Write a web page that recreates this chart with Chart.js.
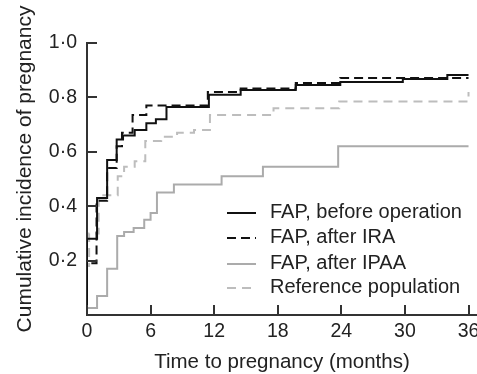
<!DOCTYPE html>
<html>
<head>
<meta charset="utf-8">
<title>Cumulative incidence of pregnancy</title>
<script src="https://cdn.jsdelivr.net/npm/chart.js@4.4.0/dist/chart.umd.min.js"></script>
<style>
  html, body { margin: 0; padding: 0; background: #fff; }
  canvas { display: block; }
</style>
</head>
<body>
<canvas id="pregnancyChart" width="477" height="374"></canvas>
<script>
// Kaplan-Meier steps: month of each event and cumulative incidence after it
const beforeMonths = [0, 0, 0.95, 1.9, 2.8, 3.4, 4.5, 5.6, 6.5, 7.5, 11.5, 14.5, 19.7, 23.9, 29.8, 34.0, 36];
const beforeValues = [0, 0.28, 0.43, 0.57, 0.645, 0.66, 0.68, 0.705, 0.72, 0.765, 0.81, 0.827, 0.846, 0.857, 0.868, 0.882, 0.882];

const iraMonths = [0, 0, 0.9, 1.9, 2.8, 3.3, 4.3, 5.6, 11.4, 14.5, 19.7, 23.9, 36];
const iraValues = [0, 0.19, 0.42, 0.54, 0.62, 0.67, 0.735, 0.77, 0.82, 0.833, 0.853, 0.871, 0.871];

const ipaaMonths = [0, 0, 0.95, 1.9, 2.85, 3.5, 4.4, 5.4, 6.0, 6.6, 8.2, 12.7, 16.6, 23.7, 36];
const ipaaValues = [0, 0.026, 0.07, 0.17, 0.29, 0.305, 0.32, 0.35, 0.375, 0.45, 0.48, 0.51, 0.545, 0.62, 0.62];

const refMonths = [0, 0, 0.2, 1.1, 2.9, 3.5, 4.5, 5.5, 7.0, 8.5, 10.1, 11.6, 17.6, 23.8, 36, 36];
const refValues = [0, 0.18, 0.30, 0.44, 0.51, 0.545, 0.565, 0.64, 0.655, 0.67, 0.68, 0.735, 0.76, 0.785, 0.785, 0.82];

const seriesLabels = ['FAP, before operation', 'FAP, after IRA', 'FAP, after IPAA', 'Reference population'];

// Axis ticks and their printed labels (journal style decimal point)
const xTicks = [0, 6, 12, 18, 24, 30, 36];
const xTickLabels = ['0', '6', '12', '18', '24', '30', '36'];
const yTicks = [0.2, 0.4, 0.6, 0.8, 1.0];
const yTickLabels = ['0·2', '0·4', '0·6', '0·8', '1·0'];

const xTitle = 'Time to pregnancy (months)';
const yTitle = 'Cumulative incidence of pregnancy';

const FONT = '"Liberation Sans", Arial, Helvetica, sans-serif';
const AXIS_COLOR = '#333';
const TEXT_COLOR = '#222';

function toPoints(months, values) {
    return months.map((m, i) => ({ x: m, y: values[i] }));
}

// Inward tick marks, axis titles and the boxed-in legend
const axisExtras = {
    id: 'axisExtras',
    afterDraw(chart) {
        const ctx = chart.ctx;
        const area = chart.chartArea;
        const xScale = chart.scales.x;
        const yScale = chart.scales.y;

        ctx.save();
        ctx.strokeStyle = AXIS_COLOR;
        ctx.lineWidth = 2;
        ctx.beginPath();
        xTicks.forEach(v => {
            const px = Math.round(xScale.getPixelForValue(v));
            ctx.moveTo(px, area.bottom);
            ctx.lineTo(px, area.bottom - 10);
        });
        yTicks.forEach(v => {
            const py = Math.round(yScale.getPixelForValue(v));
            ctx.moveTo(area.left, py);
            ctx.lineTo(area.left + 10, py);
        });
        ctx.stroke();

        // Axis titles
        ctx.fillStyle = TEXT_COLOR;
        ctx.textAlign = 'center';
        ctx.textBaseline = 'alphabetic';
        ctx.font = '20.5px ' + FONT;
        ctx.fillText(xTitle, (area.left + area.right) / 2, 368);

        ctx.save();
        ctx.translate(31, 169);
        ctx.rotate(-Math.PI / 2);
        ctx.font = '21px ' + FONT;
        ctx.fillText(yTitle, 0, 0);
        ctx.restore();

        // Legend
        ctx.font = '20px ' + FONT;
        ctx.textAlign = 'left';
        const rowY = [213, 238, 264, 288];
        chart.data.datasets.forEach((ds, i) => {
            const y = rowY[i];
            ctx.save();
            ctx.strokeStyle = ds.borderColor;
            ctx.lineWidth = ds.borderWidth;
            ctx.setLineDash(ds.borderDash || []);
            ctx.beginPath();
            ctx.moveTo(227, y);
            ctx.lineTo(256, y);
            ctx.stroke();
            ctx.restore();
            ctx.fillText(ds.label, 270, y + 5);
        });
        ctx.restore();
    }
};

document.addEventListener('DOMContentLoaded', function() {
    const canvas = document.getElementById('pregnancyChart');

    new Chart(canvas, {
        type: 'line',
        data: {
            datasets: [
                {
                    label: seriesLabels[0],
                    data: toPoints(beforeMonths, beforeValues),
                    borderColor: '#111',
                    borderWidth: 2
                },
                {
                    label: seriesLabels[1],
                    data: toPoints(iraMonths, iraValues),
                    borderColor: '#111',
                    borderWidth: 2,
                    borderDash: [9, 5]
                },
                {
                    label: seriesLabels[2],
                    data: toPoints(ipaaMonths, ipaaValues),
                    borderColor: '#ababab',
                    borderWidth: 2
                },
                {
                    label: seriesLabels[3],
                    data: toPoints(refMonths, refValues),
                    borderColor: '#bdbdbd',
                    borderWidth: 2,
                    borderDash: [9, 6]
                }
            ]
        },
        options: {
            responsive: false,
            devicePixelRatio: 1,
            animation: false,
            elements: {
                // horizontal first, then the jump: a survival-style staircase
                line: { stepped: 'before', tension: 0, fill: false },
                point: { radius: 0, hoverRadius: 0 }
            },
            layout: { padding: { top: 43, right: 0, left: 0, bottom: 0 } },
            plugins: {
                legend: { display: false },
                tooltip: { enabled: false }
            },
            scales: {
                x: {
                    type: 'linear',
                    min: 0,
                    max: 36.8,
                    afterBuildTicks: s => { s.ticks = xTicks.map(v => ({ value: v })); },
                    afterFit: s => { s.height = 59; s.paddingLeft = 0; s.paddingRight = 0; },
                    grid: { display: false, drawTicks: false },
                    border: { display: true, color: AXIS_COLOR, width: 2 },
                    ticks: {
                        padding: 5,
                        maxRotation: 0,
                        color: TEXT_COLOR,
                        font: { family: FONT, size: 19.5 },
                        callback: v => xTickLabels[xTicks.indexOf(v)]
                    }
                },
                y: {
                    min: 0,
                    max: 1,
                    afterBuildTicks: s => { s.ticks = yTicks.map(v => ({ value: v })); },
                    afterFit: s => { s.width = 87; },
                    grid: { display: false, drawTicks: false },
                    border: { display: true, color: AXIS_COLOR, width: 2 },
                    ticks: {
                        padding: 10,
                        color: TEXT_COLOR,
                        font: { family: FONT, size: 19.5 },
                        callback: v => yTickLabels[yTicks.indexOf(v)]
                    }
                }
            }
        },
        plugins: [axisExtras]
    });
});
</script>
</body>
</html>
